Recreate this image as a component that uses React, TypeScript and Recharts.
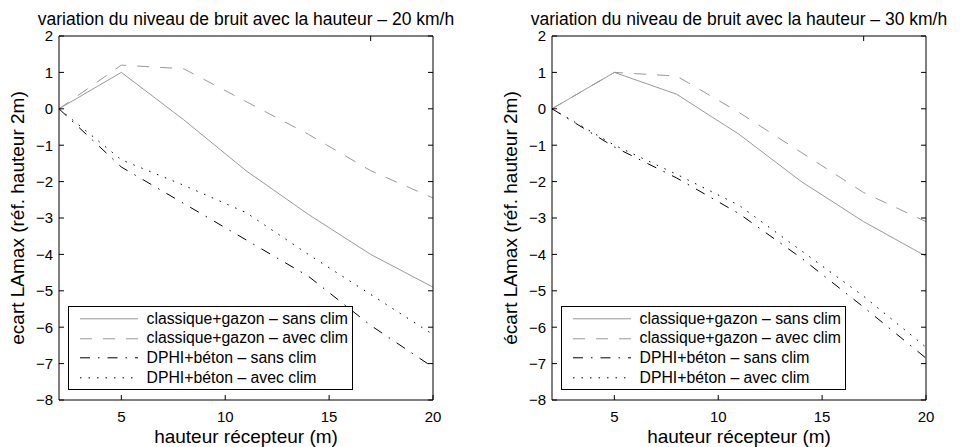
import React from 'react';
import { LineChart, Line, XAxis, YAxis, Legend, Label } from 'recharts';

// receiver heights (m)
const heights = [2, 5, 8, 11, 14, 17, 20];

// 20 km/h
const gazonSans20 = [0, 1.0, -0.3, -1.7, -2.9, -4.0, -4.9];
const gazonAvec20 = [0, 1.2, 1.1, 0.2, -0.7, -1.7, -2.45];
const betonSans20 = [0, -1.6, -2.6, -3.6, -4.6, -5.95, -7.1];
const betonAvec20 = [0, -1.4, -2.1, -2.85, -4.0, -5.1, -6.2];

// 30 km/h
const gazonSans30 = [0, 1.0, 0.4, -0.7, -2.0, -3.1, -4.05];
const gazonAvec30 = [0, 1.0, 0.9, -0.1, -1.2, -2.3, -3.1];
const betonSans30 = [0, -1.05, -1.9, -2.88, -4.1, -5.45, -6.85];
const betonAvec30 = [0, -1.0, -1.8, -2.65, -3.9, -5.15, -6.55];

const xTicks = [5, 10, 15, 20];
const yTicks = [-8, -7, -6, -5, -4, -3, -2, -1, 0, 1, 2];

const FONT = "'Liberation Sans', Arial, Helvetica, sans-serif";

const series = [
  { key: 'gazonSans', name: 'classique+gazon – sans clim', color: '#999999', dash: undefined },
  { key: 'gazonAvec', name: 'classique+gazon – avec clim', color: '#999999', dash: '12 11' },
  { key: 'betonSans', name: 'DPHI+béton – sans clim', color: '#000000', dash: '10 8 1.5 8' },
  { key: 'betonAvec', name: 'DPHI+béton – avec clim', color: '#000000', dash: '1.5 7' },
];

const makeRows = (a: number[], b: number[], c: number[], d: number[]) =>
  heights.map((h, i) => ({ h, gazonSans: a[i], gazonAvec: b[i], betonSans: c[i], betonAvec: d[i] }));

const rows20 = makeRows(gazonSans20, gazonAvec20, betonSans20, betonAvec20);
const rows30 = makeRows(gazonSans30, gazonAvec30, betonSans30, betonAvec30);

const minus = (v: number) => String(v).replace('-', '\u2212');

const LegendBox = () => (
  <div
    style={{
      width: 285,
      height: 84,
      border: '1.3px solid #000',
      background: '#fff',
      boxSizing: 'border-box',
      paddingTop: 2,
      fontFamily: FONT,
    }}
  >
    {series.map(s => (
      <div key={s.key} style={{ height: 19.6, display: 'flex', alignItems: 'center' }}>
        <svg width={70} height={19.6} style={{ flex: 'none' }}>
          <line x1={11} x2={69} y1={9.8} y2={9.8} stroke={s.color} strokeWidth={1} strokeDasharray={s.dash} />
        </svg>
        <span style={{ marginLeft: 7.5, fontSize: 15.8, color: '#000', whiteSpace: 'nowrap' }}>{s.name}</span>
      </div>
    ))}
  </div>
);

interface PanelProps {
  rows: any[];
  title: string;
  yLabel: string;
  plotLeft: number;
  plotRight: number;
}

function Panel({ rows, title, yLabel, plotLeft, plotRight }: PanelProps) {
  const leftW = 40;
  const rightW = 1;
  const center = (plotLeft + plotRight) / 2;
  return (
    <div style={{ position: 'relative', width: 480, height: 447, flex: 'none' }}>
      <LineChart
        width={480}
        height={447}
        data={rows}
        margin={{ top: 35, right: 480 - plotRight - rightW, bottom: 0, left: plotLeft - leftW }}
        style={{ fontFamily: FONT }}
      >
        <XAxis
          dataKey="h"
          type="number"
          domain={[2, 20]}
          ticks={xTicks}
          interval={0}
          allowDataOverflow
          height={47}
          tickSize={-5}
          tickMargin={16}
          tick={{ fill: '#000', fontSize: 15 }}
          axisLine={{ stroke: '#000' }}
          tickLine={{ stroke: '#000' }}
        >
          <Label value="hauteur récepteur (m)" position="insideBottom" offset={4} fill="#000" fontSize={19} />
        </XAxis>
        <XAxis
          xAxisId="top"
          orientation="top"
          type="number"
          domain={[2, 20]}
          ticks={xTicks}
          interval={0}
          allowDataOverflow
          height={1}
          tickSize={-5}
          tickFormatter={() => ''}
          axisLine={{ stroke: '#000' }}
          tickLine={{ stroke: '#000' }}
        />
        <YAxis
          type="number"
          domain={[-8, 2]}
          ticks={yTicks}
          interval={0}
          allowDataOverflow
          width={leftW}
          tickSize={-5}
          tickMargin={11}
          tickFormatter={minus}
          tick={{ fill: '#000', fontSize: 15 }}
          axisLine={{ stroke: '#000' }}
          tickLine={{ stroke: '#000' }}
        />
        <YAxis
          yAxisId="right"
          orientation="right"
          type="number"
          domain={[-8, 2]}
          ticks={yTicks}
          interval={0}
          allowDataOverflow
          width={rightW}
          tickSize={-5}
          tickFormatter={() => ''}
          axisLine={{ stroke: '#000' }}
          tickLine={{ stroke: '#000' }}
        />
        {series.map(s => (
          <Line
            key={s.key}
            type="linear"
            dataKey={s.key}
            name={s.name}
            stroke={s.color}
            strokeWidth={1}
            strokeDasharray={s.dash}
            dot={false}
            activeDot={false}
            isAnimationActive={false}
          />
        ))}
        <Legend
          layout="vertical"
          align="center"
          verticalAlign="middle"
          content={() => <LegendBox />}
          wrapperStyle={{ left: plotLeft + 9, top: 306, width: 285, height: 84 }}
        />
      </LineChart>
      <svg
        width={480}
        height={447}
        style={{ position: 'absolute', left: 0, top: 0, pointerEvents: 'none', fontFamily: FONT }}
      >
        <text x={center} y={25} textAnchor="middle" fontSize={17.5} fill="#000">
          {title}
        </text>
        <text
          transform="rotate(-90)"
          x={-218}
          y={plotLeft - 35.5}
          textAnchor="middle"
          fontSize={19}
          fill="#000"
        >
          {yLabel}
        </text>
      </svg>
    </div>
  );
}

export default function App() {
  return (
    <div
      style={{
        position: 'absolute',
        left: 0,
        top: 0,
        width: 960,
        height: 447,
        background: '#fff',
        display: 'flex',
      }}
    >
      <Panel
        rows={rows20}
        title="variation du niveau de bruit avec la hauteur – 20 km/h"
        yLabel="ecart LAmax (réf. hauteur 2m)"
        plotLeft={59}
        plotRight={433}
      />
      <Panel
        rows={rows30}
        title="variation du niveau de bruit avec la hauteur – 30 km/h"
        yLabel="écart LAmax (réf. hauteur 2m)"
        plotLeft={72}
        plotRight={446}
      />
    </div>
  );
}
